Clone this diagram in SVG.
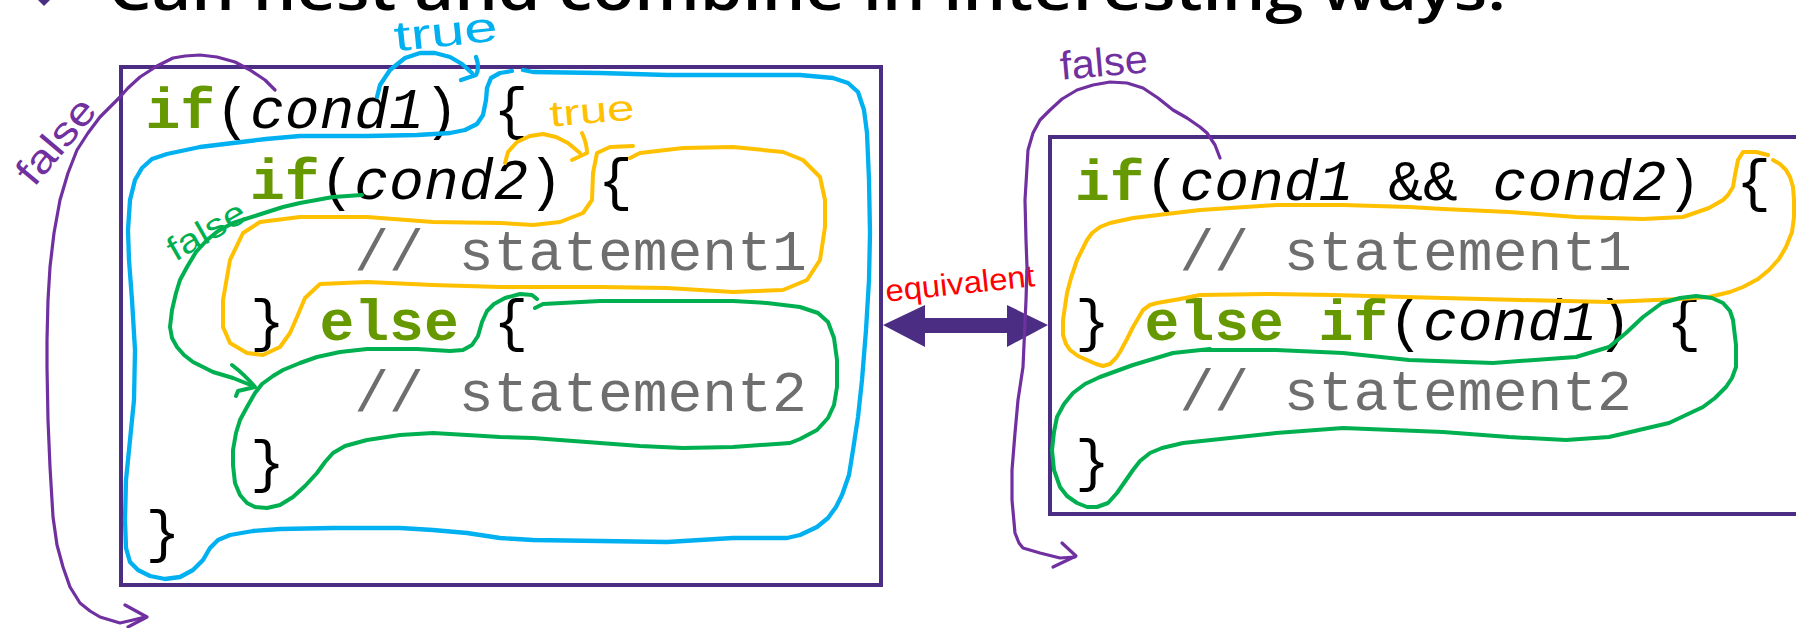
<svg xmlns="http://www.w3.org/2000/svg" width="1796" height="628" viewBox="0 0 1796 628">
  <style>
    .code { font-family: "Liberation Mono", "DejaVu Sans Mono", monospace; font-size: 58px; fill: #000; }
    .kw { font-weight: bold; fill: #669900; }
    .it { font-style: italic; }
    .cm { fill: #6e6e6e; }
    .box { fill: none; stroke: #4b2e83; stroke-width: 4; }
    .ink { fill: none; stroke-linecap: round; stroke-linejoin: round; }
    .blue { stroke: #00b0f0; stroke-width: 4.3; }
    .yellow { stroke: #ffc000; stroke-width: 4; }
    .green { stroke: #00b050; stroke-width: 4; }
    .purple { stroke: #7030a0; stroke-width: 3.2; }
    .hand { font-family: "Liberation Sans Narrow", "Liberation Sans", sans-serif; }
  </style>

  <rect width="1796" height="628" fill="#fff"/>

  <!-- slide heading, mostly above the visible area -->
  <g id="heading">
    <polygon points="44,-14 54,-4 44,6 34,-4" fill="#4b2e83"/>
    <text x="108" y="10" font-family="Open Sans, Liberation Sans, sans-serif" font-size="60" font-weight="600" textLength="1398" lengthAdjust="spacingAndGlyphs" fill="#000">Can nest and combine in interesting ways.</text>
  </g>

  <!-- nested if / else -->
  <g id="nested-if">
    <rect class="box" x="121" y="67" width="760" height="518"/>
    <text class="code" y="128"><tspan class="kw" x="145.5">if</tspan><tspan x="215.1">(</tspan><tspan class="it" x="249.9">cond1</tspan><tspan x="423.9">)</tspan><tspan x="493.5">{</tspan></text>
    <text class="code" y="199"><tspan class="kw" x="249.9">if</tspan><tspan x="319.5">(</tspan><tspan class="it" x="354.3">cond2</tspan><tspan x="528.3">)</tspan><tspan x="597.9">{</tspan></text>
    <text class="code cm" x="354.3" y="270">// statement1</text>
    <text class="code" y="340"><tspan x="249.9">}</tspan><tspan class="kw" x="319.5">else</tspan><tspan x="493.5">{</tspan></text>
    <text class="code cm" x="354.3" y="411">// statement2</text>
    <text class="code" x="249.9" y="481">}</text>
    <text class="code" x="145.5" y="551">}</text>
  </g>

  <!-- combined condition with else if -->
  <g id="combined-if">
    <rect class="box" x="1050" y="137" width="760" height="377"/>
    <text class="code" y="200"><tspan class="kw" x="1075">if</tspan><tspan x="1144.6">(</tspan><tspan class="it" x="1179.4">cond1</tspan><tspan x="1388.2">&amp;&amp;</tspan><tspan class="it" x="1492.6">cond2</tspan><tspan x="1666.6">)</tspan><tspan x="1736.2">{</tspan></text>
    <text class="code cm" x="1179.4" y="270">// statement1</text>
    <text class="code" y="340"><tspan x="1075">}</tspan><tspan class="kw" x="1144.6">else</tspan><tspan class="kw" x="1318.6">if</tspan><tspan x="1388.2">(</tspan><tspan class="it" x="1423">cond1</tspan><tspan x="1597">)</tspan><tspan x="1666.6">{</tspan></text>
    <text class="code cm" x="1179.4" y="410">// statement2</text>
    <text class="code" x="1075" y="480">}</text>
  </g>

  <!-- equivalence arrow between the two forms -->
  <g id="connectors">
    <polygon points="883,325 925,305 925,318 1007,318 1007,305 1048,325 1007,347 1007,333 925,333 925,347" fill="#4b2e83"/>
    <text class="hand" transform="translate(960,284) rotate(-6)" x="0" y="10" text-anchor="middle" font-size="31" textLength="150" lengthAdjust="spacingAndGlyphs" fill="#ff0000">equivalent</text>
  </g>

  <!-- hand-drawn control flow, left -->
  <g id="flow-left">
    <!-- outer if: true branch -->
    <path class="ink blue" d="M377,97 L380,85 L390,70 L405,58 L420,53 L435,53 L450,57 L462,64 L472,73"/>
    <path class="ink blue" d="M476,57 Q480,68 476,75 L461,80"/>
    <text class="hand" transform="translate(446,34) rotate(-6)" x="0" y="12" text-anchor="middle" font-size="42" textLength="104" lengthAdjust="spacingAndGlyphs" fill="#00b0f0">true</text>
    <path class="ink blue" d="M523,70 L533,72 L600,73 L667,75 L733,75 L800,75 L833,78 L848,83 L858,92 L864,110 L867,133 L869,180 L870,233 L869,280 L866,330 L862,380 L858,417 L853,450 L849,475 L842,495 L836,507 L828,518 L817,527 L800,535 L787,538 L733,538 L700,540 L667,542 L600,541 L533,540 L500,538 L467,533 L433,530 L400,528 L333,528 L280,529 L253,531 L230,535 L218,540 L210,548 L203,560 L193,570 L180,577 L165,579 L150,576 L138,570 L130,562 L126,548 L125,520 L126,480 L130,440 L134,400 L135,350 L132,300 L129,260 L128,230 L130,200 L135,180 L142,168 L152,159 L167,154 L200,147 L233,143 L266,139 L300,136 L367,136 L417,135 L450,133 L465,130 L477,124 L483,115 L486,100 L487,88 L491,78 L500,73 L512,71"/>

    <!-- inner if: true branch -->
    <path class="ink yellow" d="M505,163 L508,152 L517,142 L530,136 L543,134 L556,137 L568,143 L580,153"/>
    <path class="ink yellow" d="M582,133 Q587,144 587,153 L572,160"/>
    <text class="hand" transform="translate(592,112) rotate(-5)" x="0" y="11" text-anchor="middle" font-size="36" textLength="85" lengthAdjust="spacingAndGlyphs" fill="#ffc000">true</text>
    <path class="ink yellow" d="M633,146 L610,147 L597,153 L593,173 L592,200 L583,213 L560,222 L533,225 L500,223 L433,222 L367,217 L300,217 L260,222 L243,233 L230,260 L223,300 L223,327 L230,343 L247,353 L263,355 L280,347 L290,333 L297,317 L305,298 L320,284 L367,282 L433,285 L500,287 L600,287 L667,288 L733,292 L783,290 L807,280 L820,260 L825,227 L825,200 L820,177 L803,160 L783,152 L733,147 L683,148 L640,153 L630,158"/>

    <!-- inner if: false branch -->
    <path class="ink green" d="M362,195 L333,197 L300,203 L283,207 L258,215 L233,223 L218,231 L207,240 L196,252 L187,267 L180,280 L176,293 L172,310 L170,327 L172,338 L177,347 L184,355 L193,362 L213,372 L233,378 L253,386"/>
    <path class="ink green" d="M232,365 Q245,375 255,387 L238,391 L236,396"/>
    <text class="hand" transform="translate(207,232) rotate(-30)" x="0" y="10" text-anchor="middle" font-size="34" textLength="85" lengthAdjust="spacingAndGlyphs" fill="#00b050">false</text>
    <path class="ink green" d="M535,308 L543,304 L600,301 L667,301 L733,301 L767,303 L800,307 L818,313 L828,322 L834,338 L837,360 L837,387 L834,405 L828,418 L817,430 L800,439 L790,443 L733,447 L683,448 L640,446 L600,443 L533,438 L500,437 L467,435 L433,433 L400,435 L367,440 L345,446 L333,453 L325,462 L317,473 L305,486 L293,497 L280,505 L267,508 L255,507 L247,503 L240,495 L235,483 L233,465 L233,450 L236,433 L240,420 L247,407 L255,393 L262,384 L273,376 L283,370 L300,363 L317,357 L340,352 L367,349 L417,349 L450,351 L463,350 L472,345 L478,336 L482,322 L487,311 L494,304 L505,298 L520,294 L532,295 L537,299"/>

    <!-- outer if: false branch -->
    <path class="ink purple" d="M275,90 L265,80 L250,70 L235,62 L217,57 L200,55 L185,56 L173,58 L157,66 L140,77 L128,88 L120,97 L110,107 L100,117 L88,133 L77,150 L68,173 L60,200 L54,233 L50,267 L48,300 L47,340 L47,367 L48,420 L50,467 L53,517 L57,545 L63,567 L70,587 L80,603 L90,611 L100,617 L120,623 L133,620 L145,617"/>
    <path class="ink purple" d="M125,605 L147,617 L128,627"/>
    <text class="hand" transform="translate(57,142) rotate(-50)" x="0" y="12" text-anchor="middle" font-size="40" textLength="100" lengthAdjust="spacingAndGlyphs" fill="#7030a0">false</text>
  </g>

  <!-- hand-drawn control flow, right -->
  <g id="flow-right">
    <path class="ink purple" d="M1220,158 L1215,145 L1207,133 L1200,127 L1187,118 L1173,110 L1158,98 L1143,88 L1127,83 L1110,82 L1093,85 L1077,90 L1062,99 L1050,110 L1040,120 L1033,133 L1028,150 L1027,167 L1025,200 L1026,240 L1027,267 L1026,300 L1023,367 L1018,400 L1015,433 L1012,470 L1012,500 L1015,533 L1019,543 L1023,548 L1040,553 L1060,558 L1075,557"/>
    <path class="ink purple" d="M1062,543 L1076,556 L1053,567"/>
    <text class="hand" transform="translate(1104,64) rotate(-5)" x="0" y="12" text-anchor="middle" font-size="40" textLength="88" lengthAdjust="spacingAndGlyphs" fill="#7030a0">false</text>

    <path class="ink yellow" d="M1768,155 L1756,152 L1743,152 L1738,160 L1735,175 L1733,187 L1728,195 L1723,200 L1709,208 L1683,217 L1643,219 L1576,217 L1509,212 L1443,209 L1409,207 L1343,205 L1276,205 L1200,210 L1133,218 L1110,223 L1100,227 L1092,233 L1087,240 L1077,260 L1071,278 L1067,293 L1063,320 L1063,335 L1066,344 L1070,350 L1078,356 L1087,360 L1096,364 L1103,366 L1110,364 L1116,358 L1120,352 L1127,339 L1133,327 L1143,310 L1150,305 L1157,303 L1180,299 L1200,295 L1267,294 L1333,295 L1443,298 L1520,300 L1609,302 L1680,299 L1709,297 L1730,292 L1743,287 L1758,279 L1769,270 L1779,259 L1786,247 L1792,232 L1794,217 L1794,200 L1793,187 L1790,177 L1786,170 L1780,164 L1773,160"/>

    <path class="ink green" d="M1200,350 L1276,350 L1343,353 L1409,360 L1493,363 L1576,357 L1609,347 L1626,333 L1643,317 L1662,303 L1680,298 L1696,296 L1712,298 L1723,303 L1730,311 L1733,320 L1736,345 L1736,367 L1732,378 L1726,387 L1715,398 L1703,407 L1669,423 L1609,437 L1566,440 L1509,437 L1443,432 L1343,428 L1276,433 L1183,443 L1162,448 L1150,453 L1140,461 L1133,470 L1117,493 L1108,503 L1097,507 L1087,507 L1077,503 L1067,496 L1060,487 L1054,470 L1052,450 L1054,432 L1057,417 L1064,404 L1073,393 L1085,384 L1100,377 L1133,365 L1173,353 L1210,349"/>
  </g>
</svg>
